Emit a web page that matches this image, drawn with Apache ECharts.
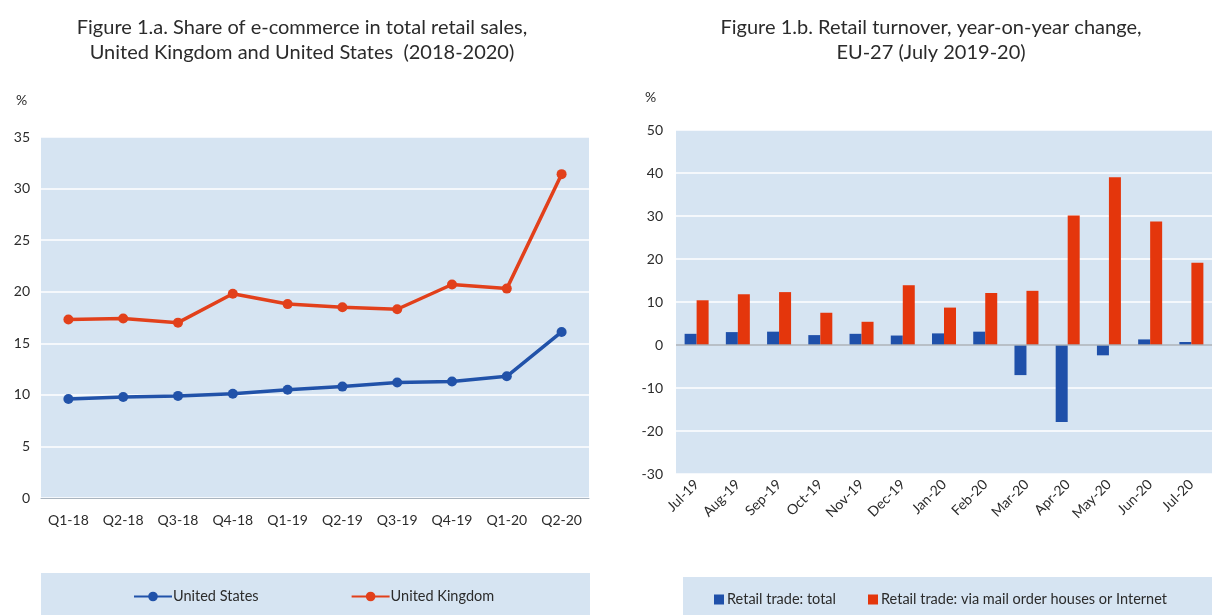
<!DOCTYPE html>
<html>
<head>
<meta charset="utf-8">
<script src="https://cdn.jsdelivr.net/npm/echarts@6/dist/echarts.min.js"></script>
<style>
html,body{margin:0;padding:0;background:#fff;}
#c{width:1212px;height:615px;}
</style>
</head>
<body>
<div id="c"></div>
<script>
// ---- Figure 1.a data ----
const quarters = ['Q1-18','Q2-18','Q3-18','Q4-18','Q1-19','Q2-19','Q3-19','Q4-19','Q1-20','Q2-20'];
const usShare = [9.6, 9.8, 9.9, 10.1, 10.5, 10.8, 11.2, 11.3, 11.8, 16.1];
const ukShare = [17.3, 17.4, 17.0, 19.8, 18.8, 18.5, 18.3, 20.7, 20.3, 31.4];

// ---- Figure 1.b data ----
const months = ['Jul-19','Aug-19','Sep-19','Oct-19','Nov-19','Dec-19','Jan-20','Feb-20','Mar-20','Apr-20','May-20','Jun-20','Jul-20'];
const retailTotal = [2.6, 3.0, 3.1, 2.3, 2.6, 2.2, 2.7, 3.1, -7.0, -17.9, -2.4, 1.3, 0.7];
const retailMailInternet = [10.4, 11.8, 12.3, 7.5, 5.4, 13.9, 8.7, 12.1, 12.6, 30.1, 39.0, 28.7, 19.1];

const leftTicks = {min: 0, max: 35, interval: 5};
const rightTicks = {min: -30, max: 50, interval: 10};

const FONT = 'Lato, "Open Sans", sans-serif';
const PLOT_BG = '#d6e4f2';
const BLUE = '#2152a9';
const RED = '#e2401b';
const BAR_BLUE = '#1f50aa';
const BAR_RED = '#e4360c';
const TXT = '#2b2b2b';

const chart = echarts.init(document.getElementById('c'), null, {renderer: 'canvas'});

chart.setOption({
  backgroundColor: '#ffffff',
  animation: false,
  textStyle: {fontFamily: FONT},
  title: [
    {text: 'Figure 1.a. Share of e-commerce in total retail sales,\nUnited Kingdom and United States  (2018-2020)',
     left: 302, top: 15, textAlign: 'center', padding: 0,
     textStyle: {fontFamily: FONT, fontSize: 20, fontWeight: 'normal', color: TXT, lineHeight: 25}},
    {text: 'Figure 1.b. Retail turnover, year-on-year change,\nEU-27 (July 2019-20)',
     left: 931, top: 15, textAlign: 'center', padding: 0,
     textStyle: {fontFamily: FONT, fontSize: 20, fontWeight: 'normal', color: TXT, lineHeight: 25}}
  ],
  graphic: [
    {type: 'rect', left: 41, top: 573, shape: {width: 549, height: 42}, style: {fill: PLOT_BG}, z: -1},
    {type: 'rect', left: 683, top: 577, shape: {width: 529, height: 38}, style: {fill: PLOT_BG}, z: -1},
    {type: 'text', left: 16, top: 93, style: {text: '%', fontFamily: FONT, fontSize: 14, fill: TXT}},
    {type: 'text', left: 645, top: 90, style: {text: '%', fontFamily: FONT, fontSize: 14, fill: TXT}}
  ],
  legend: [
    {data: ['United States', 'United Kingdom'], left: 133, top: 589, itemWidth: 38, itemHeight: 12,
     itemGap: 92, padding: 0, textStyle: {fontFamily: FONT, fontSize: 14.5, color: TXT, padding: [0, 0, 0, -4]}},
    {data: ['Retail trade: total', 'Retail trade: via mail order houses or Internet'], left: 714, top: 592,
     icon: 'rect', itemWidth: 10, itemHeight: 10, itemGap: 32, padding: 0,
     textStyle: {fontFamily: FONT, fontSize: 14.5, color: TXT, padding: [0, 0, 0, -2]}}
  ],
  grid: [
    {left: 41, top: 137, width: 548, height: 361, show: true, backgroundColor: PLOT_BG, borderWidth: 0, borderColor: 'transparent'},
    {left: 676, top: 130, width: 544, height: 344, show: true, backgroundColor: PLOT_BG, borderWidth: 0, borderColor: 'transparent'}
  ],
  xAxis: [
    {type: 'category', gridIndex: 0, data: quarters, boundaryGap: true,
     axisLine: {show: true, lineStyle: {color: '#a9b4bf', width: 1}},
     axisTick: {show: false}, splitLine: {show: false},
     axisLabel: {color: TXT, fontSize: 14, fontFamily: FONT, margin: 15, interval: 0}},
    {type: 'category', gridIndex: 1, data: months, boundaryGap: true,
     axisLine: {show: false},
     axisTick: {show: false}, splitLine: {show: false},
     axisLabel: {color: TXT, fontSize: 14, fontFamily: FONT, margin: 8, rotate: 45, interval: 0}}
  ],
  yAxis: [
    {type: 'value', gridIndex: 0, min: leftTicks.min, max: leftTicks.max, interval: leftTicks.interval,
     axisLine: {show: false}, axisTick: {show: false},
     splitLine: {show: true, lineStyle: {color: '#ffffff', width: 1.5}},
     axisLabel: {color: TXT, fontSize: 14, fontFamily: FONT, margin: 11}},
    {type: 'value', gridIndex: 1, min: rightTicks.min, max: rightTicks.max, interval: rightTicks.interval,
     axisLine: {show: false}, axisTick: {show: false},
     splitLine: {show: true, lineStyle: {color: '#ffffff', width: 1.5}},
     axisLabel: {color: TXT, fontSize: 14, fontFamily: FONT, margin: 13}}
  ],
  series: [
    {name: 'United States', type: 'line', xAxisIndex: 0, yAxisIndex: 0, data: usShare,
     symbol: 'circle', symbolSize: 10, color: BLUE,
     lineStyle: {width: 3.5, color: BLUE}, itemStyle: {color: BLUE}},
    {name: 'United Kingdom', type: 'line', xAxisIndex: 0, yAxisIndex: 0, data: ukShare,
     symbol: 'circle', symbolSize: 10, color: RED,
     lineStyle: {width: 3.5, color: RED}, itemStyle: {color: RED}},
    {name: 'Retail trade: total', type: 'bar', xAxisIndex: 1, yAxisIndex: 1, data: retailTotal,
     barWidth: 12, barGap: '0%', color: BAR_BLUE, itemStyle: {color: BAR_BLUE},
     markLine: {silent: true, symbol: 'none', label: {show: false},
       lineStyle: {color: '#a3acb6', width: 1.5, type: 'solid'}, data: [{yAxis: 0}]}},
    {name: 'Retail trade: via mail order houses or Internet', type: 'bar', xAxisIndex: 1, yAxisIndex: 1,
     data: retailMailInternet, barWidth: 12, barGap: '0%', color: BAR_RED, itemStyle: {color: BAR_RED}}
  ]
});
</script>
</body>
</html>
